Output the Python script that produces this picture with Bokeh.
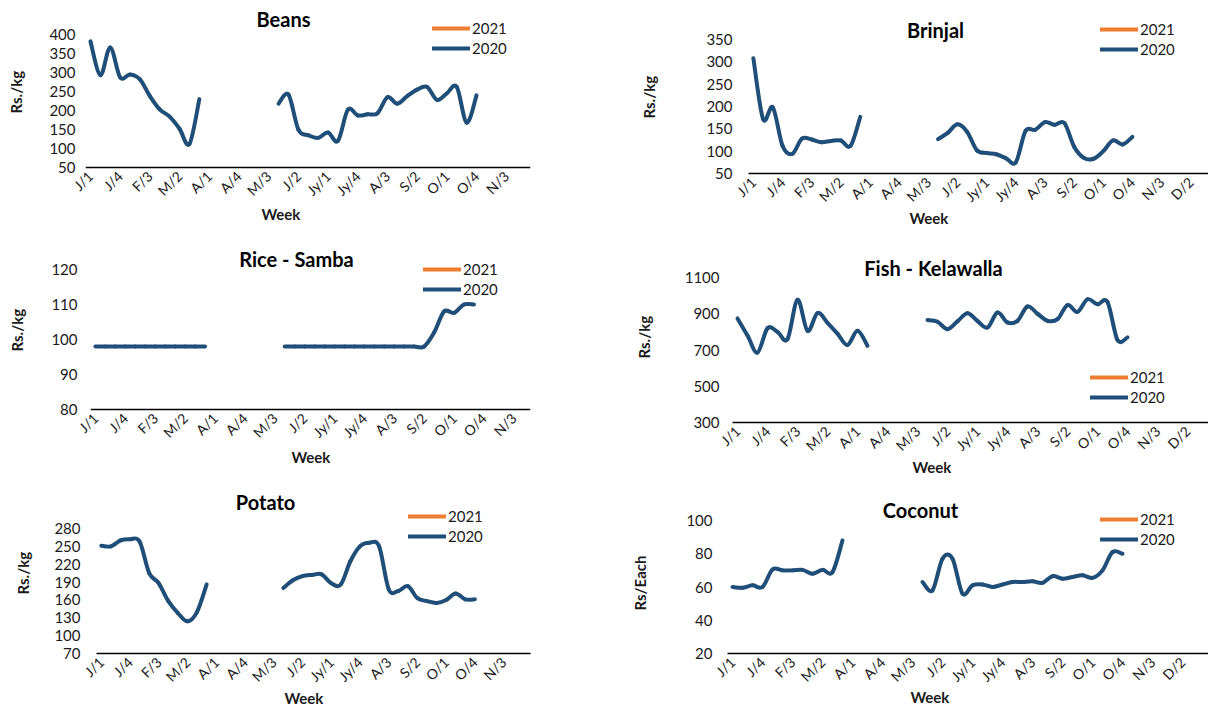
import math
from bokeh.plotting import figure
from bokeh.models import (FixedTicker, Label, Legend, LegendItem, Range1d,
                          ColumnDataSource, Title, Span)
from bokeh.layouts import column, row
from bokeh.embed import file_html
from bokeh.resources import INLINE

N = float("nan")

# ---------------- data ----------------
week_index = list(range(48))
tick_weeks = list(range(0, 48, 3))
tick_labels = ["J/1", "J/4", "F/3", "M/2", "A/1", "A/4", "M/3", "J/2",
               "Jy/1", "Jy/4", "A/3", "S/2", "O/1", "O/4", "N/3", "D/2"]
series_names = ["2021", "2020"]

beans_2020 = [382, 293, 366, 287, 295, 282, 238, 203, 184, 152, 112, 230] + [N] * 7 + \
    [218, 242, 150, 135, 128, 142, 120, 202, 187, 190, 193, 235, 218, 238, 255, 262,
     228, 245, 262, 168, 240] + [N] * 8
brinjal_2020 = [308, 172, 198, 112, 94, 128, 126, 120, 123, 124, 112, 177] + [N] * 7 + \
    [127, 141, 160, 143, 102, 96, 93, 84, 75, 145, 148, 165, 159, 163, 110, 85,
     83, 100, 124, 115, 132] + [N] * 8
rice_2020 = [98] * 12 + [N] * 7 + [98] * 14 + [98, 102, 108, 107.6, 110, 110] + [N] * 9
fish_2020 = [874, 780, 686, 820, 800, 760, 977, 806, 904, 850, 790, 727, 806, 723] + [N] * 5 + \
    [865, 856, 815, 858, 903, 860, 824, 907, 852, 861, 940, 900, 861, 870, 948, 910,
     980, 952, 965, 755, 770] + [N] * 8
potato_2020 = [251, 250, 260, 262, 258, 205, 188, 158, 138, 124, 140, 186] + [N] * 7 + \
    [180, 193, 200, 202, 203, 188, 186, 225, 250, 256, 250, 178, 175, 183, 163, 158,
     155, 160, 171, 161, 161] + [N] * 8
coconut_2020 = [60, 59.5, 61, 60, 70.5, 70, 70, 70.3, 68, 70.3, 69, 88] + [N] * 7 + \
    [63, 58, 77, 77, 56, 61, 61.5, 60, 61.5, 63, 63, 63.4, 62.5, 66.5, 65, 66,
     67, 65.5, 70, 81, 80] + [N] * 8
values_2021 = [N] * 48  # no 2021 values yet

FONT = "Lato"
BLUE = "#1F4E79"
ORANGE = "#ED7D31"
TXT = "#1a1a1a"


def smooth_segments(xs, ys):
    """Excel-style smoothed line: one cubic Bezier between each pair of known points."""
    ok = [not math.isnan(v) for v in ys]
    n = len(xs)
    d = dict(x0=[], y0=[], x1=[], y1=[], cx0=[], cy0=[], cx1=[], cy1=[])
    for i in range(n - 1):
        if not (ok[i] and ok[i + 1]):
            continue
        xp, yp = (xs[i - 1], ys[i - 1]) if i > 0 and ok[i - 1] else (xs[i], ys[i])
        xn, yn = (xs[i + 2], ys[i + 2]) if i + 2 < n and ok[i + 2] else (xs[i + 1], ys[i + 1])
        d["x0"].append(xs[i]); d["y0"].append(ys[i])
        d["x1"].append(xs[i + 1]); d["y1"].append(ys[i + 1])
        d["cx0"].append(xs[i] + (xs[i + 1] - xp) / 6)
        d["cy0"].append(ys[i] + (ys[i + 1] - yp) / 6)
        d["cx1"].append(xs[i + 1] - (xn - xs[i]) / 6)
        d["cy1"].append(ys[i + 1] - (yn - ys[i]) / 6)
    return d


def panel(title, ylabel, values, yr, ystep, ox, oy, w, h, fl, fr, fb, pmin, pmax, band,
          ytick_so, ylab, title_xy, week, legend_xy):
    # fl, fr: frame left/right on page; fb: frame bottom on page (shared in a row)
    # pmin, pmax: page y of the lowest and highest y ticks
    ft = oy
    s = (yr[1] - yr[0]) / (pmin - pmax)
    y_start = yr[0] - (fb - pmin) * s
    y_end = yr[1] + (pmax - ft) * s
    fw = fr - fl
    p = figure(width=w, height=h, output_backend="svg", toolbar_location=None, tools="",
               title=None,
               min_border_left=fl - ox, min_border_right=ox + w - fr,
               min_border_top=0, min_border_bottom=oy + h - fb,
               x_range=Range1d(-0.5, -0.5 + fw / band), y_range=Range1d(y_start, y_end),
               background_fill_color="white", border_fill_color="white")
    p.outline_line_color = None
    p.xgrid.visible = False
    p.ygrid.visible = False

    r21 = p.line(x=week_index, y=values_2021, line_color=ORANGE, line_width=4, line_cap="round")
    src = ColumnDataSource(smooth_segments(week_index, values))
    r20 = p.bezier(x0="x0", y0="y0", x1="x1", y1="y1", cx0="cx0", cy0="cy0",
                   cx1="cx1", cy1="cy1", source=src, line_color=BLUE, line_width=4,
                   line_cap="round")

    gap = fb - pmin
    xa = p.xaxis[0]
    xa.ticker = FixedTicker(ticks=tick_weeks)
    xa.major_label_overrides = {t: l for t, l in zip(tick_weeks, tick_labels)}
    xa.major_label_orientation = math.pi / 4
    xa.major_tick_line_color = None
    xa.minor_tick_line_color = None
    xa.major_tick_out = 0
    xa.minor_tick_out = 0
    xa.major_label_standoff = int(round(6 - gap))
    xa.major_label_text_font = FONT
    xa.major_label_text_font_size = "14px"
    xa.major_label_text_color = TXT
    if gap < 1:
        xa.axis_line_color = "black"
        xa.axis_line_width = 1.5
    else:
        xa.axis_line_color = None
        p.add_layout(Span(location=yr[0], dimension="width", line_color="black", line_width=1.5))

    ya = p.yaxis[0]
    ya.ticker = FixedTicker(ticks=list(range(yr[0], yr[1] + 1, ystep)))
    ya.axis_line_color = None
    ya.major_tick_line_color = None
    ya.minor_tick_line_color = None
    ya.major_tick_out = 0
    ya.minor_tick_out = 0
    ya.major_label_standoff = ytick_so
    ya.major_label_text_font = FONT
    ya.major_label_text_font_size = "15px"
    ya.major_label_text_color = TXT

    # y axis title: spacer panel + title panel on the left
    gap_k, y_center, label_w = ylab
    p.add_layout(Title(text=" ", standoff=gap_k, text_font=FONT,
                       text_font_size="15px"), "left")
    p.add_layout(Title(text=ylabel, align="left", offset=fb - (y_center + label_w / 2),
                       standoff=0, text_font=FONT, text_font_style="bold",
                       text_font_size="15px", text_color=TXT), "left")
    # x axis title below
    wx, w_so = week
    p.add_layout(Title(text="Week", align="left", offset=wx - 19 - fl,
                       standoff=w_so, text_font=FONT, text_font_style="bold",
                       text_font_size="15px", text_color=TXT), "below")

    tx, ty = title_xy
    p.add_layout(Label(x=tx - fl, y=fb - ty, x_units="screen", y_units="screen", text=title,
                       text_align="center", text_baseline="middle", text_font=FONT,
                       text_font_style="bold", text_font_size="20px", text_color="black"))

    lx, ly = legend_xy  # start of first legend line, centre of first item
    leg = Legend(items=[LegendItem(label=series_names[0], renderers=[r21]),
                        LegendItem(label=series_names[1], renderers=[r20])],
                 location=(lx - fl, fb - (ly + 30)), orientation="vertical",
                 border_line_color=None, background_fill_alpha=0,
                 padding=0, margin=0, spacing=0, glyph_width=38, glyph_height=20,
                 label_height=20, label_standoff=2, label_text_font=FONT,
                 label_text_font_size="15px", label_text_color=TXT)
    p.add_layout(leg)
    return p


# row 1 (frame bottom 173), row 2 (422), row 3 (653)
p1 = panel("Beans", "Rs./kg", beans_2020, (50, 400), 50, 0, 0, 600, 238,
           85, 530, 173, 167, 34, 9.9, 10, (2, 92, 42), (283, 18), (280, -9), (432, 27.7))
p2 = panel("Brinjal", "Rs./kg", brinjal_2020, (50, 350), 50, 600, 0, 608, 238,
           748, 1208, 173, 173, 39, 9.72, 16, (26, 97, 42), (935, 29), (928, -13), (1100, 29))
p3 = panel("Rice - Samba", "Rs./kg", rice_2020, (80, 120), 10, 0, 238, 600, 240,
           90, 530, 422, 409, 269, 9.96, 13, (3, 330, 42), (296, 258), (310, -7), (423, 269.3))
p4 = panel("Fish - Kelawalla", "Rs./kg", fish_2020, (300, 1100), 200, 600, 238, 608, 240,
           732, 1208, 422, 422, 277, 10.0, 13, (9, 337, 42), (933, 267), (931, -13), (1090, 376.7))
p5 = panel("Potato", "Rs./kg", potato_2020, (70, 280), 30, 0, 478, 600, 229,
           96, 530, 653, 653, 528, 9.58, 16, (0, 573, 42), (265, 501), (303, -13), (408, 516))
p6 = panel("Coconut", "Rs/Each", coconut_2020, (20, 100), 20, 600, 478, 608, 229,
           727, 1208, 653, 653, 520, 10.0, 15, (15, 583, 54), (920, 509), (929, -15), (1100, 519))

layout = column(row(p1, p2), row(p3, p4), row(p5, p6))
open("out.html", "w").write(file_html(layout, INLINE))
